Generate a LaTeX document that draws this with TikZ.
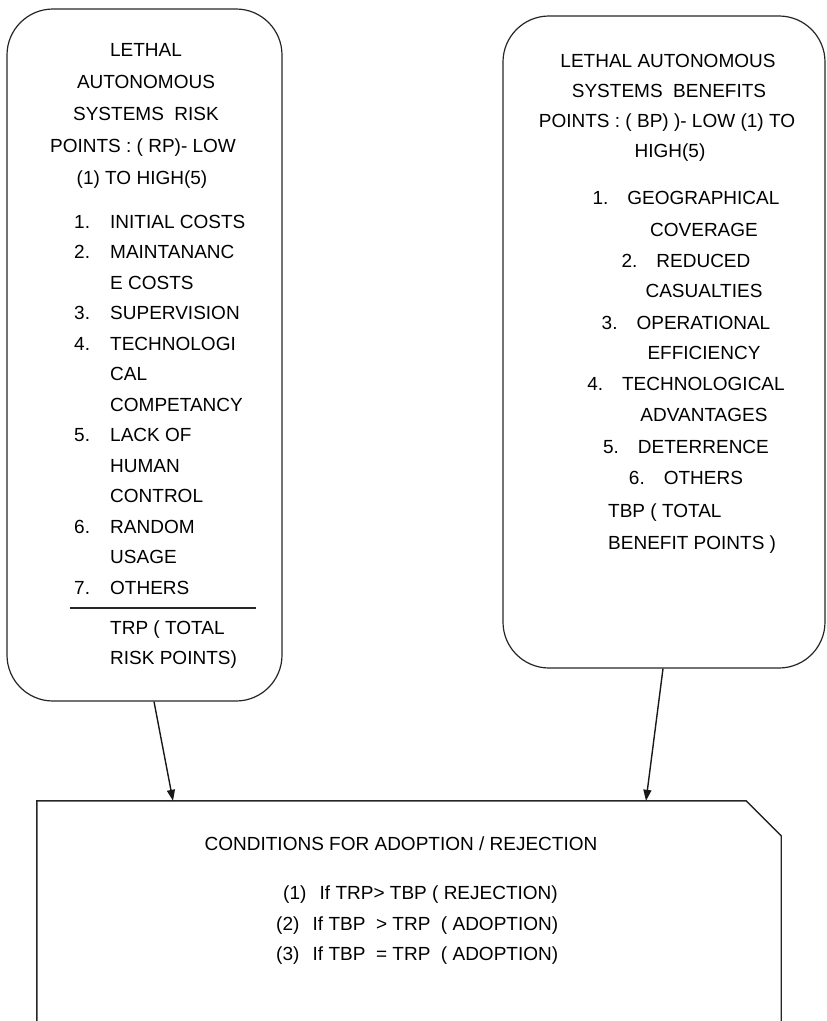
\documentclass[tikz,border=0pt]{standalone}
\usepackage{fontspec}
\setmainfont{Liberation Sans}
\usetikzlibrary{arrows.meta, positioning}

\begin{document}
\begin{tikzpicture}[x=1pt, y=-1pt, >={Triangle[length=11pt, width=8pt]},
    box/.style={draw=black!85, line width=1.2pt, rounded corners=46pt},
    frame/.style={draw=black!85, line width=1.4pt},
    link/.style={->, draw=black!90, line width=1.4pt},
    txt/.style={inner sep=0pt, font=\fontsize{19}{23}\selectfont, text=black},
    item/.style={txt, anchor=base west},
    head/.style={txt, anchor=base}]

    \clip (0,0) rectangle (827,1021);

    % Boxes
    \node[box, minimum width=275pt, minimum height=692pt] (risk) at (144.5,355) {};
    \node[box, minimum width=322pt, minimum height=652pt] (benefit) at (664,342) {};
    \node[minimum width=744pt, minimum height=260pt] (cond) at (409,931) {};
    \draw[frame] (cond.south west) -- (cond.north west)
        -- ([xshift=-35pt]cond.north east) -- ([yshift=-35pt]cond.north east)
        -- (cond.south east);

    % Risk box text
    \node[head] (rt1) at (146,56) {LETHAL};
    \node[head] (rt2) at (146,88) {AUTONOMOUS};
    \node[head] (rt3) at (146,120) {SYSTEMS~~RISK};
    \node[head] (rt4) at (143,152) {POINTS : ( RP)- LOW};
    \node[head] (rt5) at (142,184) {(1) TO HIGH(5)};

    \node[item] (ri1) at (74,228) {\makebox[36pt][l]{1.}INITIAL COSTS};
    \node[item] (ri2) at (74,258.5) {\makebox[36pt][l]{2.}MAINTANANC};
    \node[item] (ri3) at (110,289) {E COSTS};
    \node[item] (ri4) at (74,319.5) {\makebox[36pt][l]{3.}SUPERVISION};
    \node[item] (ri5) at (74,350) {\makebox[36pt][l]{4.}TECHNOLOGI};
    \node[item] (ri6) at (110,380.5) {CAL};
    \node[item] (ri7) at (110,411) {COMPETANCY};
    \node[item] (ri8) at (74,441.5) {\makebox[36pt][l]{5.}LACK OF};
    \node[item] (ri9) at (110,472) {HUMAN};
    \node[item] (ri10) at (110,502.5) {CONTROL};
    \node[item] (ri11) at (74,533) {\makebox[36pt][l]{6.}RANDOM};
    \node[item] (ri12) at (110,563.5) {USAGE};
    \node[item] (ri13) at (74,594) {\makebox[36pt][l]{7.}OTHERS};
    \draw[line width=1.2pt, black!85] (70,608) -- (256,608);
    \node[item] (rs1) at (110,634) {TRP ( TOTAL};
    \node[item] (rs2) at (110,664) {RISK POINTS)};

    % Benefit box text
    \node[head] (bt1) at (668,67) {LETHAL AUTONOMOUS};
    \node[head] (bt2) at (669,97) {SYSTEMS~~BENEFITS};
    \node[head] (bt3) at (667,127) {POINTS : ( BP) )- LOW (1) TO};
    \node[head] (bt4) at (670,157) {HIGH(5)};

    \node[head] (bi1) at (686,204) {1.\quad GEOGRAPHICAL};
    \node[head] (bi2) at (704,236) {COVERAGE};
    \node[head] (bi3) at (686,267) {2.\quad REDUCED};
    \node[head] (bi4) at (704,297) {CASUALTIES};
    \node[head] (bi5) at (686,329) {3.\quad OPERATIONAL};
    \node[head] (bi6) at (704,359) {EFFICIENCY};
    \node[head] (bi7) at (686,390) {4.\quad TECHNOLOGICAL};
    \node[head] (bi8) at (704,421) {ADVANTAGES};
    \node[head] (bi9) at (686,453) {5.\quad DETERRENCE};
    \node[head] (bi10) at (686,484) {6.\quad OTHERS};
    \node[item] (bs1) at (608,517) {TBP ( TOTAL};
    \node[item] (bs2) at (608,549) {BENEFIT POINTS )};

    % Conditions text
    \node[head] (ct) at (401,850) {CONDITIONS FOR ADOPTION / REJECTION};
    \node[item] (c1) at (283,899) {(1)\hspace{0.7em}If TRP> TBP ( REJECTION)};
    \node[item] (c2) at (276,930) {(2)\hspace{0.7em}If TBP~~> TRP~~( ADOPTION)};
    \node[item] (c3) at (276,960) {(3)\hspace{0.7em}If TBP~~= TRP~~( ADOPTION)};

    % Arrows
    \draw[link] ([xshift=9.5pt]risk.south) -- ([xshift=-236pt]cond.north);
    \draw[link] ([xshift=-1pt]benefit.south) -- ([xshift=237pt]cond.north);

\end{tikzpicture}
\end{document}
